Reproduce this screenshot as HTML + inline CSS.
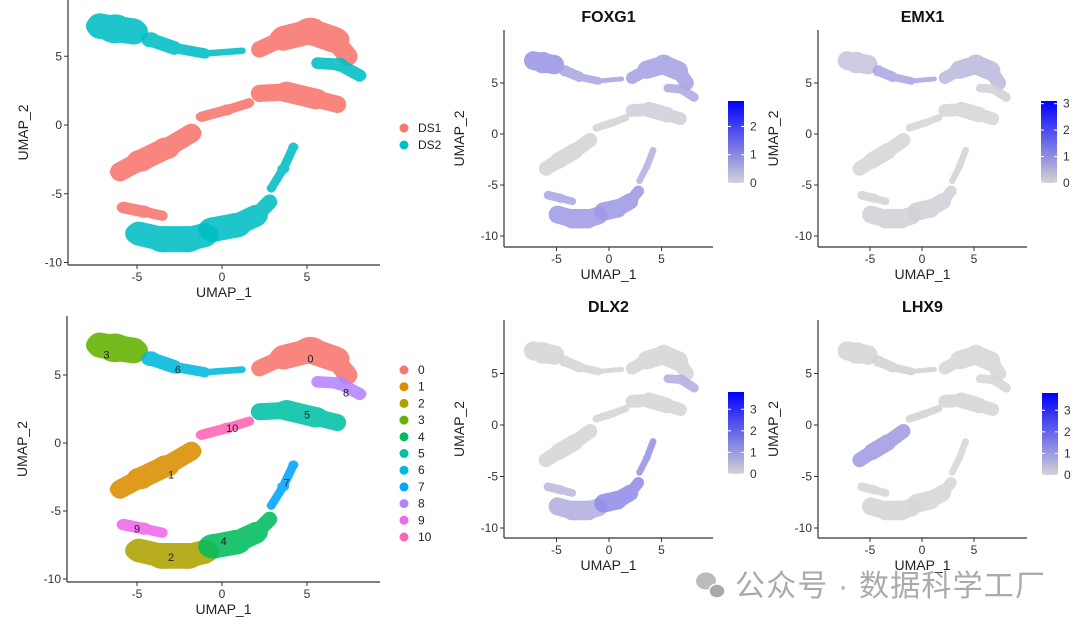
<!DOCTYPE html>
<html><head><meta charset="utf-8"><style>
body{margin:0;background:#fff}
svg{display:block;font-family:"Liberation Sans","Noto Sans CJK SC",sans-serif}
</style></head><body>
<svg id="s" width="1080" height="630" viewBox="0 0 1080 630"></svg>
<script>
// cluster skeletons in UMAP coords: [x,y,radius]
const clusterIds=["0","1","2","3","4","5","6","7","8","9","10"];
const clusterPaths=[
 [[2.2,5.5,0.4],[3.6,6.3,0.8],[5.2,6.8,1.0],[6.6,6.2,0.9],[7.4,5.0,0.5]],
 [[-6.0,-3.4,0.6],[-4.8,-2.6,0.8],[-3.3,-1.7,0.8],[-1.8,-0.6,0.6]],
 [[-4.9,-7.9,0.8],[-3.5,-8.3,0.95],[-2.0,-8.3,0.95],[-1.0,-8.0,0.8]],
 [[-7.2,7.2,0.8],[-6.3,7.0,1.05],[-5.2,6.8,0.85]],
 [[-0.5,-7.6,0.9],[0.8,-7.3,0.9],[2.0,-6.6,0.7],[2.8,-5.6,0.4]],
 [[2.2,2.3,0.5],[3.8,2.4,0.75],[5.5,1.9,0.75],[6.8,1.5,0.5]],
 [[-4.2,6.2,0.55],[-2.8,5.6,0.45],[-1.0,5.2,0.3],[1.2,5.4,0.18]],
 [[2.9,-4.6,0.28],[3.6,-3.2,0.35],[4.2,-1.6,0.3]],
 [[5.6,4.5,0.35],[6.9,4.4,0.5],[8.1,3.6,0.4]],
 [[-5.8,-6.0,0.4],[-4.6,-6.3,0.45],[-3.5,-6.6,0.3]],
 [[-1.2,0.6,0.35],[0.3,1.1,0.4],[1.6,1.6,0.3]]
];
const clusterColors=["#F8766D","#DB8E00","#AEA200","#64B200","#00BD5C","#00C1A7","#00BADE","#00A6FF","#B385FF","#EF67EB","#FF63B6"];
const labelPos=[[5.2,6.2],[-3,-2.3],[-3,-8.4],[-6.8,6.5],[0.1,-7.2],[5,2.1],[-2.6,5.4],[3.8,-2.9],[7.3,3.7],[-5,-6.3],[0.6,1.1]];
const datasetLabels=["DS1","DS2"];
const datasetOfCluster=[0,0,1,1,1,0,1,1,1,0,0];
const genes=["FOXG1","EMX1","DLX2","LHX9"];
const geneMax=[2.9,3.1,3.8,3.8];
const geneTicks=[[0,1,2],[0,1,2,3],[0,1,2,3],[0,1,2,3]];
const exprFOXG1=[1.5,0.1,1.7,1.9,1.8,0.2,1.4,1.1,1.3,1.4,0.1];
const exprEMX1=[0.9,0,0.2,0.6,0.2,0,1.5,0.1,0.2,0.1,0];
const exprDLX2=[0.1,0.1,1.5,0.1,2.8,0.1,0.1,2.6,1.5,1.1,0.1];
const exprLHX9=[0,2.2,0.1,0.1,0,0.1,0.2,0,0,0.1,0.2];
const exprs=[exprFOXG1,exprEMX1,exprDLX2,exprLHX9];
const xTicks=[-5,0,5], yTicks=[5,0,-5,-10];

const NS="http://www.w3.org/2000/svg", S=document.getElementById('s');
function el(t,a,p){const e=document.createElementNS(NS,t);for(const k in a)e.setAttribute(k,a[k]);(p||S).appendChild(e);return e;}
function mix(v,m){const t=Math.min(1,v/m)*0.62;const r=Math.round(215-215*t*0.7),g=Math.round(215-215*t*0.75),b=Math.round(215+40*t);return `rgb(${r},${g},${b})`;}

function panel(P,name,colorFn,title){
 const g=el('g',{});
 const X=v=>P.x0+v*P.sx, Y=v=>P.y0-v*P.sy;
 clusterPaths.forEach((pts,ci)=>{
  const c=colorFn(ci);
  const cg=el('g',{opacity:0.88},g);
  
  
  for(let i=0;i<pts.length;i++){
   const p=pts[i];
   el('ellipse',{cx:X(p[0]),cy:Y(p[1]),rx:p[2]*P.sx,ry:p[2]*P.sy,fill:c},cg);
   if(i>0){const q=pts[i-1];el('line',{x1:X(q[0]),y1:Y(q[1]),x2:X(p[0]),y2:Y(p[1]),stroke:c,'stroke-width':(p[2]+q[2])*P.sy,'stroke-linecap':'round'},cg);}
  }
 });
 el('line',{x1:P.ax,y1:P.top,x2:P.ax,y2:P.ay,stroke:'#333','stroke-width':1.2},g);
 el('line',{x1:P.ax,y1:P.ay,x2:P.right,y2:P.ay,stroke:'#333','stroke-width':1.2},g);
 xTicks.forEach(t=>{el('line',{x1:X(t),y1:P.ay,x2:X(t),y2:P.ay+4,stroke:'#333'},g);const tx=el('text',{x:X(t),y:P.ay+16,'font-size':12,'text-anchor':'middle',fill:'#333'},g);tx.textContent=t;});
 yTicks.forEach(t=>{el('line',{x1:P.ax-4,y1:Y(t),x2:P.ax,y2:Y(t),stroke:'#333'},g);const tx=el('text',{x:P.ax-6,y:Y(t)+4,'font-size':12,'text-anchor':'end',fill:'#333'},g);tx.textContent=t;});
 const xt=el('text',{x:(P.ax+P.right)/2,y:P.ay+32,'font-size':14,'text-anchor':'middle',fill:'#222'},g);xt.textContent='UMAP_1';
 
 const yy=(P.top+P.ay)/2;
 const yt=el('text',{x:P.ax-40,y:yy,'font-size':14,'text-anchor':'middle',fill:'#222',transform:`rotate(-90 ${P.ax-40} ${yy})`},g);yt.textContent='UMAP_2';
 
 if(title){const tt=el('text',{x:(P.ax+P.right)/2,y:P.top-8,'font-size':16,'font-weight':'bold','text-anchor':'middle',fill:'#111'},g);tt.textContent=title;
  }
 return {g,X,Y};
}

const dsCol=["#F8766D","#00BFC4"];
panel({x0:222,sx:17,y0:125,sy:13.75,ax:68,ay:265,top:0,right:380},'dataset-umap',ci=>dsCol[datasetOfCluster[ci]]);
datasetLabels.forEach((d,i)=>{
 const lg=el('g',{});
 el('circle',{cx:404,cy:128+i*17,r:4.5,fill:dsCol[i]},lg);
 const t=el('text',{x:418,y:132+i*17,'font-size':12,fill:'#222'},lg);t.textContent=d;
});
const cp=panel({x0:222,sx:17,y0:443,sy:13.6,ax:67,ay:582,top:316,right:380},'cluster-umap',ci=>clusterColors[ci]);
clusterIds.forEach((id,i)=>{
 const t=el('text',{x:cp.X(labelPos[i][0]),y:cp.Y(labelPos[i][1])+4,'font-size':11,'text-anchor':'middle',fill:'#222'},cp.g);t.textContent=id;
 const lg=el('g',{});
 el('circle',{cx:404,cy:370+i*16.7,r:4.5,fill:clusterColors[i]},lg);
 const lt=el('text',{x:418,y:374+i*16.7,'font-size':12,fill:'#222'},lg);lt.textContent=id;
});
const fp=[
 {x0:609,sx:10.5,y0:134,sy:10.2,ax:504,ay:247,top:30,right:713,cbx:728,cby:101},
 {x0:922,sx:10.4,y0:134,sy:10.2,ax:818,ay:247,top:30,right:1027,cbx:1041,cby:101},
 {x0:609,sx:10.5,y0:425,sy:10.3,ax:504,ay:538,top:320,right:713,cbx:728,cby:392},
 {x0:922,sx:10.4,y0:425,sy:10.3,ax:818,ay:538,top:320,right:1027,cbx:1042,cby:393}
];
const defs=el('defs',{});
const gr=el('linearGradient',{id:'cb',x1:0,y1:1,x2:0,y2:0},defs);
el('stop',{offset:0,'stop-color':'#d3d3d3'},gr);el('stop',{offset:1,'stop-color':'#0000ff'},gr);
genes.forEach((gn,k)=>{
 const P=fp[k];
 const pn=panel(P,'feature-'+gn.toLowerCase(),ci=>mix(exprs[k][ci],geneMax[k]),gn);
 const cb=el('g',{},pn.g);
 el('rect',{x:P.cbx,y:P.cby,width:16,height:82,fill:'url(#cb)'},cb);
 geneTicks[k].forEach(t=>{const y=P.cby+82-t/geneMax[k]*82;
  el('line',{x1:P.cbx,y1:y,x2:P.cbx+3,y2:y,stroke:'#fff'},cb);el('line',{x1:P.cbx+13,y1:y,x2:P.cbx+16,y2:y,stroke:'#fff'},cb);
  const tx=el('text',{x:P.cbx+22,y:y+4,'font-size':12,fill:'#333'},cb);tx.textContent=t;});
});
const wm=el('g',{});
el('ellipse',{cx:706,cy:581,rx:10,ry:8.5,fill:'#bbb'},wm);
el('ellipse',{cx:717,cy:591,rx:8,ry:7,fill:'#aaa',stroke:'#fff','stroke-width':1.5},wm);
const wt=el('text',{x:735,y:596,'font-size':30,fill:'#aaa',textLength:310},wm);wt.textContent='公众号 · 数据科学工厂';
</script>
</body></html>
